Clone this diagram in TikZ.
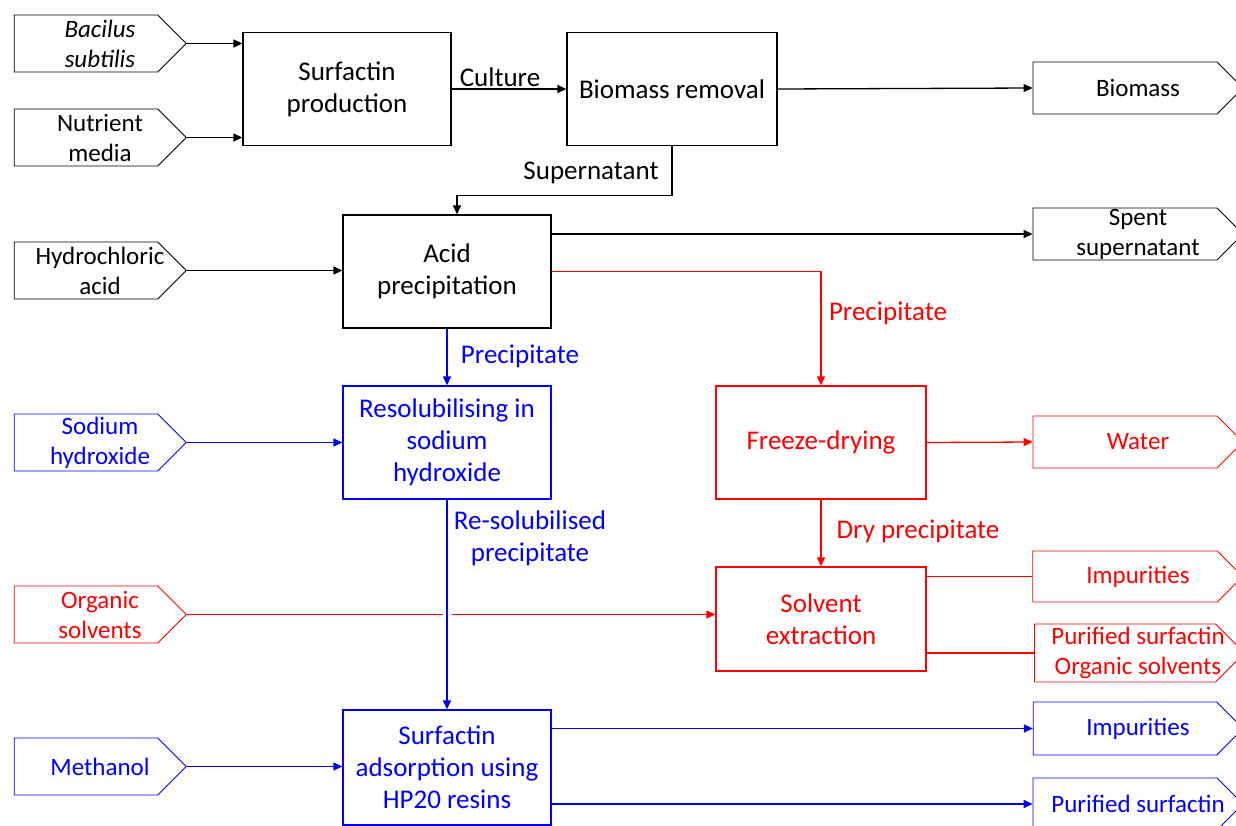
\documentclass[tikz,border=0pt]{standalone}
\usepackage{fontspec}
\setmainfont{Carlito}
\usetikzlibrary{shapes.symbols,arrows.meta}

\begin{document}
\begin{tikzpicture}[x=1pt,y=-1pt,
  font=\fontsize{27}{32}\selectfont,
  proc/.style={draw,line width=1.3pt,minimum width=208pt,minimum height=113pt,align=center,inner sep=0pt},
  inbox/.style={signal,signal to=east,signal pointer angle=90,draw=#1,line width=0.8pt,minimum width=172pt,minimum height=57pt,inner sep=0pt},
  inbox/.default=black,
  outbox/.style={inbox=#1,minimum width=210pt,minimum height=52pt},
  outbox/.default=black,
  intext/.style 2 args={label={[xshift=14pt,align=center,font=\fontsize{25}{30}\selectfont,text=#1]center:#2}},
  outtext/.style 2 args={label={[xshift=13pt,align=center,font=\fontsize{25}{30}\selectfont,text=#1]center:#2}},
  flow/.style={line width=1.3pt,-{Triangle[length=9pt,width=8pt]}},
  plain/.style={line width=1.3pt}]
\useasboundingbox (0,0) rectangle (1236,825);
\clip (0,0) rectangle (1236,825);

%Inputs
\node[inbox,intext={black}{\itshape Bacilus\\\itshape subtilis}] (bac) at (86,43.5) {};
\node[inbox,intext={black}{Nutrient\\media}] (nut) at (86,137.5) {};
\node[inbox,intext={black}{Hydrochloric\\acid}] (hcl) at (86,270.5) {};
\node[inbox=blue,intext={blue}{Sodium\\hydroxide}] (naoh) at (86,442.5) {};
\node[inbox=red,intext={red}{Organic\\solvents}] (org) at (86,614.5) {};
\node[inbox=blue,intext={blue}{Methanol}] (meoh) at (86,766.5) {};

%Process steps
\node[proc] (sp) at (347,89) {Surfactin\\production};
\node[proc,minimum width=210pt] (br) at (672,89) {Biomass removal};
\node[proc] (ap) at (447,271.5) {Acid\\precipitation};
\node[proc,blue,text=blue] (rs) at (447,442.5) {Resolubilising in\\sodium\\hydroxide};
\node[proc,red,text=red,minimum width=210pt] (fd) at (821,442.5) {Freeze-drying};
\node[proc,red,text=red,minimum width=210pt,minimum height=104pt] (se) at (821,619) {Solvent\\extraction};
\node[proc,blue,text=blue,minimum height=115pt] (sa) at (447,767.5) {Surfactin\\adsorption using\\HP20 resins};

%Outputs
\node[outbox,outtext={black}{Biomass}] (bio) at (1125,88) {};
\node[outbox,outtext={black}{Spent\\supernatant}] (spent) at (1125,234) {};
\node[outbox=red,outtext={red}{Water}] (wat) at (1125,442) {};
\node[outbox=red,minimum height=51pt,outtext={red}{Impurities}] (imp1) at (1125,576.5) {};
\node[outbox=red,minimum height=58pt,outtext={red}{Purified surfactin\\Organic solvents}] (pur1) at (1125,653) {};
\node[outbox=blue,minimum height=53pt,outtext={blue}{Impurities}] (imp2) at (1125,728.5) {};
\node[outbox=blue,outtext={blue}{Purified surfactin}] (pur2) at (1125,804) {};

%Stream labels
\node (cult) at (500,77) {Culture};
\node (sup) at (591,173) {Supernatant};
\node[red] (prc1) at (888,313) {Precipitate};
\node[blue] (prc2) at (520,356) {Precipitate};
\node[blue,align=center] (resol) at (530,538) {Re-solubilised\\precipitate};
\node[red] (dry) at (918,531) {Dry precipitate};

%Black streams
\draw[flow] (bac.east) -- (bac.east -| sp.west);
\draw[flow] (nut.east) -- (nut.east -| sp.west);
\draw[flow] (sp.east) -- (br.west);
\draw[flow] (br.east) -- (bio.west);
\draw[flow] (br.south) -- ++(0,49) -| ([xshift=10pt]ap.north);
\draw[flow] (hcl.east) -- (hcl.east -| ap.west);
\draw[flow] (ap.east |- spent.west) -- (spent.west);

%Red streams
\draw[flow,red] (ap.east) -| (fd.north);
\draw[flow,red] (fd.east) -- (wat.west);
\draw[flow,red] (fd.south) -- (se.north);
\draw[plain,red] (org.east) -- ([xshift=-4pt]rs.south |- org.east);
\draw[flow,red] ([xshift=5pt]rs.south |- org.east) -- (se.west |- org.east);
\draw[plain,red] (se.east |- imp1.west) -- (imp1.west);
\draw[plain,red] (se.east |- pur1.west) -- (pur1.west);

%Blue streams
\draw[flow,blue] (ap.south) -- (rs.north);
\draw[flow,blue] (naoh.east) -- (naoh.east -| rs.west);
\draw[flow,blue] (rs.south) -- (sa.north);
\draw[flow,blue] (meoh.east) -- (meoh.east -| sa.west);
\draw[flow,blue] (sa.east |- imp2.west) -- (imp2.west);
\draw[flow,blue] (sa.east |- pur2.west) -- (pur2.west);
\end{tikzpicture}
\end{document}
